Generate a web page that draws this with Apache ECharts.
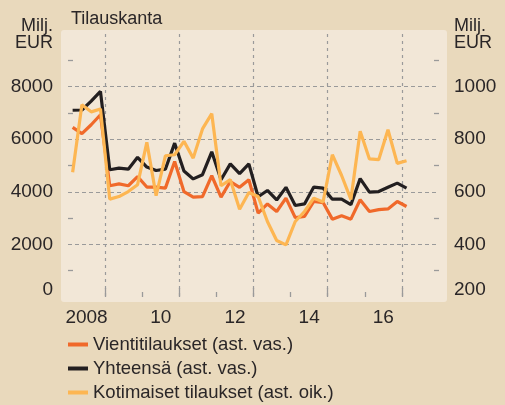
<!DOCTYPE html>
<html>
<head>
<meta charset="utf-8">
<script src="https://cdn.jsdelivr.net/npm/echarts@6/dist/echarts.min.js"></script>
<style>
html, body { margin: 0; padding: 0; background: #e9d9bc; }
#chart { width: 505px; height: 405px; }
</style>
</head>
<body>
<div id="chart"></div>
<script>
var quarters = ['2008Q1', '2008Q2', '2008Q3', '2008Q4', '2009Q1', '2009Q2', '2009Q3', '2009Q4',
    '2010Q1', '2010Q2', '2010Q3', '2010Q4', '2011Q1', '2011Q2', '2011Q3', '2011Q4',
    '2012Q1', '2012Q2', '2012Q3', '2012Q4', '2013Q1', '2013Q2', '2013Q3', '2013Q4',
    '2014Q1', '2014Q2', '2014Q3', '2014Q4', '2015Q1', '2015Q2', '2015Q3', '2015Q4',
    '2016Q1', '2016Q2', '2016Q3', '2016Q4', '2017Q1'];
// vasen asteikko, milj. EUR
var vienti = [6450, 6210, 6550, 6930, 4230, 4300, 4230, 4580, 4180, 4180, 4140, 5150,
    4010, 3800, 3820, 4610, 3800, 4390, 4170, 4460, 3190, 3540, 3250, 3760,
    3020, 3060, 3630, 3590, 2960, 3090, 2960, 3700, 3250, 3320, 3350, 3630, 3440];
var yhteensa = [7100, 7110, 7450, 7820, 4840, 4900, 4860, 5310, 4940, 4810, 4860, 5850,
    4790, 4490, 4650, 5520, 4460, 5060, 4690, 5060, 3810, 4050, 3690, 4170,
    3480, 3540, 4180, 4140, 3720, 3720, 3510, 4500, 3990, 4010, 4170, 4330, 4140];
// oikea asteikko, milj. EUR
var kotimaiset = [674, 931, 904, 915, 572, 582, 601, 627, 788, 585, 737, 741,
    792, 728, 839, 897, 623, 646, 534, 597, 582, 487, 415, 398,
    487, 525, 576, 561, 741, 662, 571, 830, 725, 722, 836, 708, 718];
var yearTicks = [2010, 2012, 2014, 2016];
var yearLabels = [2008.5, 2010.5, 2012.5, 2014.5, 2016.5];

var font = 'Liberation Sans';
var ink = '#2a2627';
var gridGray = '#9a9a9a';

// '2008Q1' -> neljänneksen keskikohta vuosiasteikolla
function qx(q) {
    return +q.slice(0, 4) + (+q.slice(5) - 0.5) / 4;
}
function pairs(vals) {
    return vals.map(function(v, i) { return [qx(quarters[i]), v]; });
}
function lowLabel(min) {
    return function(v) { return v === min ? '{lo|' + v + '}' : String(v); };
}

var chart = echarts.init(document.getElementById('chart'));
chart.setOption({
    animation: false,
    backgroundColor: '#e9d9bc',
    textStyle: { fontFamily: font },
    title: {
        text: 'Tilauskanta',
        left: 66,
        top: 5,
        textStyle: { fontSize: 18, fontWeight: 'normal', color: ink, fontFamily: font }
    },
    graphic: [{
        type: 'rect',
        z: -1,
        silent: true,
        shape: { x: 61, y: 30, width: 386, height: 272, r: 3 },
        style: { fill: '#f2e7d7' }
    }, {
        type: 'text',
        x: 53, y: 18,
        style: { text: 'Milj.\nEUR', align: 'right', verticalAlign: 'top', fontSize: 18, lineHeight: 17, fontFamily: font, fill: ink }
    }, {
        type: 'text',
        x: 454, y: 18,
        style: { text: 'Milj.\nEUR', align: 'left', verticalAlign: 'top', fontSize: 18, lineHeight: 17, fontFamily: font, fill: ink }
    }],
    legend: {
        orient: 'vertical',
        left: 68,
        top: 335,
        padding: 0,
        itemWidth: 20,
        itemHeight: 4,
        itemGap: 5,
        icon: 'rect',
        textStyle: { fontSize: 18.5, lineHeight: 19, color: ink, fontFamily: font },
        data: ['Vientitilaukset (ast. vas.)', 'Yhteensä (ast. vas.)', 'Kotimaiset tilaukset (ast. oik.)']
    },
    grid: { left: 68, right: 66, top: 34, bottom: 108 },
    xAxis: [{
        type: 'value',
        min: 2008,
        max: 2018,
        interval: 2,
        axisLine: { show: false },
        axisTick: { show: true, inside: true, length: 5, customValues: yearTicks, lineStyle: { color: gridGray, width: 1.3 } },
        minorTick: { show: true, splitNumber: 2, length: 9, lineStyle: { color: gridGray, width: 1.3 } },
        splitLine: { show: false },
        minorSplitLine: { show: true, lineStyle: { color: gridGray, width: 1.2, type: [3, 4] } },
        axisLabel: {
            customValues: yearLabels,
            margin: 11,
            fontSize: 19,
            color: ink,
            formatter: function(v) {
                var y = Math.floor(v);
                return y === 2008 ? '2008' : String(y).slice(2);
            }
        }
    }],
    yAxis: [{
        type: 'value',
        position: 'left',
        min: 0,
        max: 10000,
        interval: 2000,
        axisLine: { show: false },
        axisTick: { show: false, inside: true },
        minorTick: { show: true, splitNumber: 2, length: 5, lineStyle: { color: gridGray, width: 1.3 } },
        splitLine: { show: true, showMinLine: false, showMaxLine: false, lineStyle: { color: gridGray, width: 1.2, type: [4, 3] } },
        axisLabel: {
            showMaxLabel: false,
            margin: 15,
            fontSize: 19,
            color: ink,
            formatter: lowLabel(0),
            rich: { lo: { fontSize: 19, fontFamily: font, color: ink, padding: [0, 0, 14, 0] } }
        }
    }, {
        type: 'value',
        position: 'right',
        min: 200,
        max: 1200,
        interval: 200,
        axisLine: { show: false },
        axisTick: { show: false, inside: true },
        minorTick: { show: true, splitNumber: 2, length: 5, lineStyle: { color: gridGray, width: 1.3 } },
        splitLine: { show: false },
        axisLabel: {
            showMaxLabel: false,
            margin: 15,
            fontSize: 19,
            color: ink,
            formatter: lowLabel(200),
            rich: { lo: { fontSize: 19, fontFamily: font, color: ink, padding: [0, 0, 14, 0] } }
        }
    }],
    series: [{
        name: 'Vientitilaukset (ast. vas.)',
        type: 'line',
        yAxisIndex: 0,
        showSymbol: false,
        color: '#f0692a',
        lineStyle: { width: 3.2 },
        data: pairs(vienti)
    }, {
        name: 'Yhteensä (ast. vas.)',
        type: 'line',
        yAxisIndex: 0,
        showSymbol: false,
        color: '#231f20',
        lineStyle: { width: 3.2 },
        data: pairs(yhteensa)
    }, {
        name: 'Kotimaiset tilaukset (ast. oik.)',
        type: 'line',
        yAxisIndex: 1,
        showSymbol: false,
        color: '#fdb652',
        lineStyle: { width: 3.2 },
        data: pairs(kotimaiset)
    }]
});
</script>
</body>
</html>
